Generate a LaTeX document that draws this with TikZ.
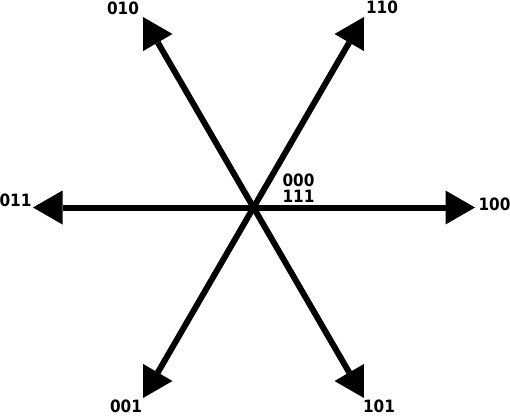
\documentclass[tikz,border=0pt]{standalone}
\usepackage{fontspec}
\usetikzlibrary{arrows.meta}
\newfontfamily\lblfont{DejaVu Sans Condensed}
\begin{document}
\begin{tikzpicture}[x=1pt,y=-1pt,
  vec/.style={line width=6pt,-{Triangle[length=29.5pt,width=34pt,line width=0pt]}},
  lbl/.style={inner sep=0pt,anchor=center,font=\lblfont\bfseries\fontsize{17}{19}\selectfont}]
\useasboundingbox (0,0) rectangle (510,416);
\coordinate (c) at (253.5,207.5);
\coordinate (e100) at (475,207.5);
\coordinate (e011) at (33,207.5);
\coordinate (e110) at (364,17);
\coordinate (e010) at (143,17);
\coordinate (e001) at (143,398);
\coordinate (e101) at (364,398);
\draw[vec] (c) -- (e100);
\draw[vec] (c) -- (e011);
\draw[vec] (c) -- (e110);
\draw[vec] (c) -- (e010);
\draw[vec] (c) -- (e001);
\draw[vec] (c) -- (e101);
\node[lbl] (l010) at (123,8.5) {010};
\node[lbl] (l110) at (382,7.5) {110};
\node[lbl] (l000) at (298.5,180) {000};
\node[lbl] (l111) at (298.5,196) {111};
\node[lbl] (l100) at (494.5,204) {100};
\node[lbl] (l011) at (15.5,200.5) {011};
\node[lbl] (l001) at (126,406) {001};
\node[lbl] (l101) at (379,406) {101};
\end{tikzpicture}
\end{document}
